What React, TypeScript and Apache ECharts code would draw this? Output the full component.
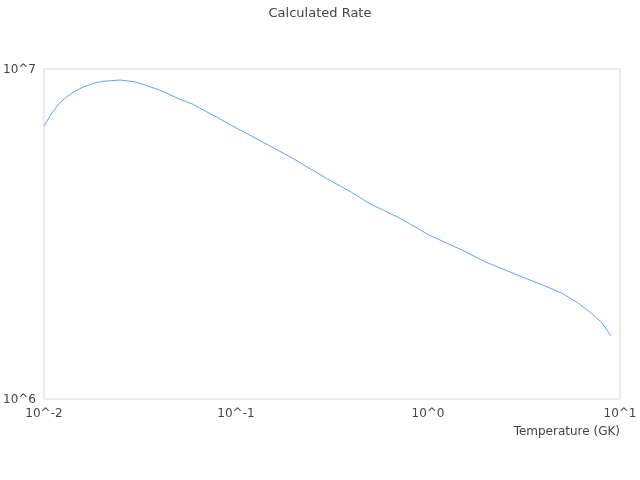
import React, { useEffect, useRef } from "react";
import * as echarts from "echarts";

const temperatures = [
  0.01, 0.011, 0.012, 0.013, 0.014, 0.015, 0.016, 0.018, 0.02, 0.025, 0.03,
  0.04, 0.05, 0.06, 0.07, 0.08, 0.09, 0.1, 0.15, 0.2, 0.3, 0.4, 0.5, 0.6, 0.7,
  0.8, 0.9, 1, 1.5, 2, 3, 4, 5, 6, 7, 8, 9,
];
const rates = [
  6.72e6, 7.36e6, 7.86e6, 8.2e6, 8.46e6, 8.65e6, 8.82e6, 9.04e6, 9.17e6,
  9.26e6, 9.13e6, 8.64e6, 8.14e6, 7.81e6, 7.43e6, 7.13e6, 6.86e6, 6.63e6,
  5.85e6, 5.34e6, 4.64e6, 4.23e6, 3.9e6, 3.71e6, 3.55e6, 3.4e6, 3.27e6,
  3.15e6, 2.83e6, 2.6e6, 2.36e6, 2.21e6, 2.09e6, 1.96e6, 1.83e6, 1.71e6,
  1.55e6,
];
const titleText = "Calculated Rate";
const xAxisName = "Temperature (GK)";

const fmtPow = (v: number) => "10^" + Math.round(Math.log10(v));

export default function App() {
  const ref = useRef<HTMLDivElement>(null);
  useEffect(() => {
    if (!ref.current) return;
    const chart = echarts.init(ref.current, undefined, { renderer: "svg" });
    const font = "DejaVu Sans";
    chart.setOption({
      animation: false,
      title: {
        text: titleText,
        left: "center",
        top: 1,
        textStyle: { fontFamily: font, fontSize: 13, fontWeight: "normal", color: "#444" },
      },
      grid: {
        left: 40,
        right: 20,
        top: 69,
        bottom: 81,
        show: true,
        borderColor: "#d8d8d8",
        borderWidth: 1,
      },
      xAxis: {
        type: "log",
        logBase: 10,
        min: 0.01,
        max: 10,
        name: xAxisName,
        nameLocation: "end",
        nameGap: 0,
        nameTextStyle: {
          fontFamily: font,
          fontSize: 12,
          color: "#444",
          align: "right",
          verticalAlign: "top",
          padding: [26, 0, 0, 0],
        },
        axisLine: { show: false },
        axisTick: { show: false },
        splitLine: { show: false },
        axisLabel: {
          fontFamily: font,
          fontSize: 12,
          color: "#444",
          margin: 8,
          formatter: fmtPow,
        },
      },
      yAxis: {
        type: "log",
        logBase: 10,
        min: 1e6,
        max: 1e7,
        axisLine: { show: false },
        axisTick: { show: false },
        splitLine: { show: false },
        axisLabel: {
          fontFamily: font,
          fontSize: 12,
          color: "#444",
          margin: 8,
          formatter: fmtPow,
        },
      },
      series: [
        {
          type: "line",
          data: temperatures.map((t, i) => [t, rates[i]]),
          showSymbol: false,
          symbol: "none",
          lineStyle: { color: "#5aa5f5", width: 1 },
        },
      ],
    });
    return () => chart.dispose();
  }, []);
  return (
    <div
      ref={ref}
      style={{ position: "fixed", left: 0, top: 0, width: 640, height: 480 }}
    />
  );
}
